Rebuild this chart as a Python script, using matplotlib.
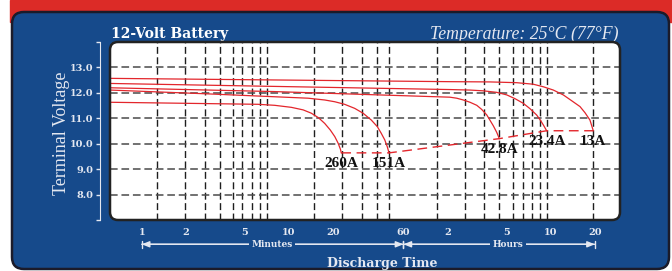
import matplotlib
matplotlib.use('Agg')
import matplotlib.pyplot as plt
import matplotlib.ticker as mticker
import matplotlib.transforms as mtransforms
from matplotlib.patches import FancyBboxPatch, Rectangle

# discharge time (minutes) vs terminal voltage (V)
t_13a = [0.61, 124, 232, 353, 457, 535, 626, 731, 834, 950, 1027, 1110, 1169]
v_13a = [12.57, 12.44, 12.43, 12.40, 12.34, 12.24, 12.11, 11.92, 11.69, 11.46, 11.22, 10.93, 10.51]

t_23a = [0.61, 124, 170, 209, 258, 302, 344, 391, 434, 482, 513, 535, 564]
v_23a = [12.37, 12.13, 12.11, 12.08, 12.02, 11.92, 11.77, 11.59, 11.38, 11.13, 10.91, 10.74, 10.51]

t_43a = [0.61, 8.0, 124, 138, 153, 170, 189, 204, 221, 232, 245, 258, 269]
v_43a = [12.20, 12.05, 11.83, 11.79, 11.72, 11.63, 11.51, 11.35, 11.13, 10.93, 10.70, 10.45, 10.20]

t_151a = [0.61, 2.82, 13.5, 17.5, 20.5, 23.9, 28.0, 31.9, 36.3, 39.9, 42.4, 44.8, 46.6, 47.9]
v_151a = [12.11, 11.96, 11.79, 11.72, 11.65, 11.55, 11.39, 11.20, 10.93, 10.67, 10.41, 10.15, 9.88, 9.64]

t_260a = [0.61, 6.17, 8.01, 10.4, 12.5, 14.2, 15.9, 17.5, 19.1, 20.5, 21.6, 22.4, 22.7]
v_260a = [11.63, 11.55, 11.51, 11.43, 11.33, 11.20, 11.02, 10.80, 10.54, 10.28, 10.02, 9.78, 9.64]

curve_names = ['13A', '23.4A', '42.8A', '151A', '260A']

cutoff_t = [22.7, 47.9, 269, 564, 1169]
cutoff_v = [9.64, 9.64, 10.20, 10.51, 10.51]

tick_minutes = [1, 2, 5, 10, 20, 60, 120, 300, 600, 1200]
tick_labels = ['1', '2', '5', '10', '20', '60', '2', '5', '10', '20']
volt_ticks = [8, 9, 10, 11, 12, 13]
grid_minutes = [1.28, 1.97, 2.69, 3.40, 4.15, 4.83, 5.59, 6.37, 7.13, 14.9, 22.8, 31.2,
                39.7, 48.1, 101, 157, 213, 269, 335, 391, 450, 508, 564, 1169]

W, H = 672, 271
BLUE = '#164a8b'
RED = '#dc2b27'
LINE = '#e3262c'
LIGHT = '#e4e8f1'

plt.rcParams['font.family'] = 'DejaVu Serif'

fig = plt.figure(figsize=(W / 100, H / 100), dpi=100, facecolor='white')
px = mtransforms.IdentityTransform()


def box(x0, y0, x1, y1, r, **kw):
    # rounded box in image pixels (origin top-left)
    return FancyBboxPatch((x0, H - y1), x1 - x0, y1 - y0,
                          boxstyle=f'round,pad=0,rounding_size={r}',
                          transform=px, **kw)


fig.add_artist(Rectangle((10, H - 22), W - 10, 22, transform=px, color=RED, zorder=-20))
fig.add_artist(box(12, 12, 669, 269, 12, facecolor=BLUE, edgecolor='#1b1b2a', lw=1.8, zorder=-10))
fig.add_artist(box(110, 42, 620, 220, 8, facecolor='white', edgecolor='none', zorder=-5))
fig.add_artist(box(110, 42, 620, 220, 8, fill=False, edgecolor='#222222', lw=1.8, zorder=5))

ax = fig.add_axes([110 / W, (H - 220) / H, 510 / W, 178 / H])
ax.patch.set_visible(False)
ax.set_xscale('log')
ax.set_xlim(0.609, 1776)
ax.set_ylim(7, 14)

for x in grid_minutes:
    ax.axvline(x, color='#1e1e1e', lw=1, ls=(0, (5, 2.5)), zorder=1)
for y in volt_ticks:
    ax.axhline(y, color='#4a4a4a', lw=1.1, ls=(0, (5, 2.5)), zorder=1)

curves = [(t_13a, v_13a), (t_23a, v_23a), (t_43a, v_43a), (t_151a, v_151a), (t_260a, v_260a)]
for (t, v), name in zip(curves, curve_names):
    ax.plot(t, v, color=LINE, lw=0.9, zorder=3)
    ax.annotate(name, (t[-1], v[-1]), xytext=(0, -11), textcoords='offset pixels',
                ha='center', va='center', fontsize=11, fontweight='bold',
                family='Liberation Serif', color='#111111', zorder=4)
ax.plot(cutoff_t, cutoff_v, color=LINE, lw=1, dashes=(7, 4), zorder=3)

for side in ['top', 'right', 'bottom']:
    ax.spines[side].set_visible(False)
ax.spines['left'].set_position(('outward', 7.2))
ax.spines['left'].set_bounds(7, 14)
ax.spines['left'].set_color(LIGHT)

ax.set_yticks(volt_ticks, [f'{v:.1f}' for v in volt_ticks])
ax.set_yticks([7, 14], minor=True)
ax.yaxis.set_minor_formatter(mticker.NullFormatter())
ax.tick_params(axis='y', which='both', direction='out', length=3, width=1,
               color=LIGHT, labelcolor=LIGHT, labelsize=7, pad=1.5)
ax.xaxis.set_major_locator(mticker.FixedLocator(tick_minutes))
ax.xaxis.set_major_formatter(mticker.FixedFormatter(tick_labels))
ax.xaxis.set_minor_locator(mticker.NullLocator())
ax.tick_params(axis='x', which='both', length=0, labelcolor=LIGHT, labelsize=7, pad=6)
for lbl in ax.get_xticklabels() + ax.get_yticklabels():
    lbl.set_fontweight('bold')

# minutes / hours bracket arrows
trans = mtransforms.blended_transform_factory(ax.transData, ax.transAxes)
y_arr = -0.1365
for a, b in [(1, 60), (60, 1200)]:
    ax.annotate('', xy=(b, y_arr), xytext=(a, y_arr), xycoords=trans, textcoords=trans,
                arrowprops=dict(arrowstyle='|-|,widthA=0.25,widthB=0.25', color=LIGHT,
                                lw=1, shrinkA=0, shrinkB=0), annotation_clip=False)
    ax.annotate('', xy=(b, y_arr), xytext=(a, y_arr), xycoords=trans, textcoords=trans,
                arrowprops=dict(arrowstyle='<|-|>,head_length=0.45,head_width=0.18',
                                color=LIGHT, lw=1, shrinkA=0, shrinkB=0),
                annotation_clip=False)
for x, s in [(7.68, 'Minutes'), (308, 'Hours')]:
    ax.text(x, y_arr, s, transform=trans, ha='center', va='center', fontsize=6.5,
            fontweight='bold', color=LIGHT, clip_on=False, zorder=6,
            bbox=dict(facecolor=BLUE, edgecolor='none', pad=2))

fig.text(382 / W, 1 - 263.6 / H, 'Discharge Time', ha='center', va='center',
         fontsize=9, fontweight='bold', color=LIGHT)
fig.text(61.7 / W, 1 - 133 / H, 'Terminal Voltage', rotation=90, ha='center', va='center',
         fontsize=13, family='Liberation Serif', color=LIGHT)
fig.text(110.6 / W, 1 - 34 / H, '12-Volt Battery', ha='left', va='center',
         fontsize=10, fontweight='bold', color='white')
fig.text(619 / W, 1 - 34 / H, 'Temperature: 25°C (77°F)', ha='right', va='center',
         fontsize=12.8, style='italic', family='Liberation Serif', color=LIGHT)

fig.savefig('out.png', dpi=100)
